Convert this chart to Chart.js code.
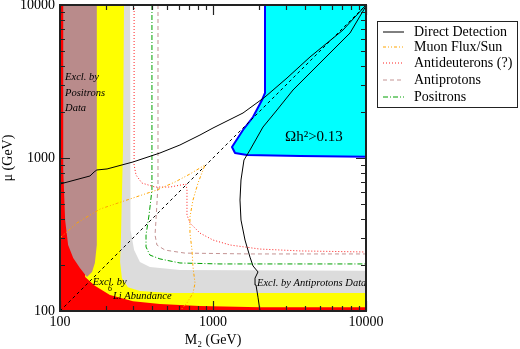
<!DOCTYPE html>
<html>
<head>
<meta charset="utf-8">
<script src="https://cdn.jsdelivr.net/npm/chart.js@4/dist/chart.umd.min.js"></script>
<style>
html, body { margin: 0; padding: 0; background: #fff; }
</style>
</head>
<body>
<canvas id="chart" width="520" height="349"></canvas>
<script>
// axis values (GeV)
const tickValues = [100, 1000, 10000];

// excluded regions: boundaries, as (M2, mu) pairs
const redX = [100, 100, 10000, 10000];
const redY = [100, 10000, 10000, 100];
const yellowX = [146, 146, 169, 212, 300, 450, 822, 2028, 10000, 10000];
const yellowY = [10000, 167, 146, 127, 116, 111, 108, 106, 106, 10000];
const greyX = [262, 258, 250, 247, 254, 278, 333, 524, 10000, 10000];
const greyY = [10000, 1128, 291, 209, 164, 143, 135, 131, 131, 10000];
const whiteX = [287, 287, 291, 305, 333, 387, 608, 10000, 10000];
const whiteY = [10000, 531, 338, 250, 209, 194, 185, 183, 10000];
const brownX = [105, 105, 108, 113, 122, 135, 150, 162, 169, 174, 174];
const brownY = [10000, 835, 393, 270, 222, 191, 167, 180, 206, 270, 10000];
// the relic density region runs past the top and right edges
const cyanX = [2187, 2187, 2091, 1826, 1571, 1331, 1393, 1668, 3704, 12000, 12000, 2187];
const cyanY = [12000, 2660, 2394, 1853, 1524, 1180, 1078, 1046, 1031, 1015, 12000, 12000];

// sensitivity curves
const ddAX = [100, 157, 167, 174, 203, 300, 450, 608, 822, 1000, 1571, 2187, 3046, 4305, 7073, 10000];
const ddAY = [676, 763, 810, 835, 848, 942, 1078, 1216, 1413, 1571, 1968, 2505, 3333, 4573, 6864, 10000];
const ddBX = [2028, 1968, 1910, 1882, 1968, 1826, 1745, 1619, 1524, 1501, 1524, 1594, 1745, 2122, 2620, 3333, 5005, 7862, 10000];
const ddBY = [100, 123, 148, 164, 180, 197, 225, 291, 393, 531, 718, 970, 1128, 1594, 2060, 2782, 4178, 6561, 9851];
const muonX = [100, 129, 183, 300, 430, 565, 707, 886, 798, 740, 707, 707, 729, 740, 763, 740, 676, 608];
const muonY = [300, 376, 464, 548, 618, 697, 786, 900, 686, 531, 412, 323, 250, 194, 152, 131, 113, 100];
const dbarX = [305, 305, 314, 343, 418, 524, 666, 676, 676, 707, 822, 1000, 1292, 2028, 3704, 10000];
const dbarY = [10000, 900, 774, 686, 646, 646, 676, 618, 424, 376, 323, 291, 270, 254, 247, 243];
const pbarX = [437, 437, 424, 418, 430, 486, 656, 1745, 10000];
const pbarY = [10000, 666, 393, 314, 270, 250, 239, 236, 236];
const posX = [399, 399, 382, 365, 365, 387, 450, 608, 1111, 10000];
const posY = [10000, 618, 424, 314, 262, 232, 219, 206, 203, 203];
const diagX = [100, 10000];
const diagY = [100, 10000];

const serif = "'Liberation Serif', 'Times New Roman', 'DejaVu Serif', serif";

function pts(xs, ys) {
    return xs.map((x, i) => ({ x: x, y: ys[i] }));
}

function curve(label, xs, ys, color, dash) {
    return {
        label: label,
        data: pts(xs, ys),
        borderColor: color,
        borderWidth: 1,
        borderDash: dash,
        fill: false,
        inLegend: label != null
    };
}

function region(xs, ys, color, border) {
    return {
        data: pts(xs, ys),
        backgroundColor: color,
        borderColor: border || color,
        borderWidth: border ? 2 : 0,
        borderJoinStyle: 'round',
        fill: 'shape',
        clip: 0,
        inLegend: false
    };
}

// text inside the plot, placed in data coordinates
const notes = [
    { text: 'Excl. by', x: 108, y: 3381, size: 10.5, italic: true },
    { text: 'Positrons', x: 108, y: 2660, size: 10.5, italic: true },
    { text: 'Data', x: 108, y: 2122, size: 10.5, italic: true },
    { text: 'Excl. by', x: 164, y: 155, size: 10.5, italic: true },
    { text: '6', x: 206, y: 139, size: 8, italic: true },
    { text: 'Li Abundance', x: 222, y: 125, size: 10.5, italic: true },
    { text: 'Excl. by Antiprotons Data', x: 1940, y: 152, size: 10.5, italic: true },
    { text: 'Ωh²>0.13', x: 2955, y: 1372, size: 15, italic: false }
];

const notesPlugin = {
    id: 'notes',
    afterDatasetsDraw(chart) {
        let ctx = chart.ctx;
        let xs = chart.scales.x, ys = chart.scales.y;
        ctx.save();
        ctx.fillStyle = '#000';
        ctx.textAlign = 'left';
        ctx.textBaseline = 'middle';
        for (let n of notes) {
            ctx.font = (n.italic ? 'italic ' : '') + n.size + 'px ' + serif;
            ctx.fillText(n.text, xs.getPixelForValue(n.x), ys.getPixelForValue(n.y));
        }
        ctx.restore();
    }
};

// frame with inward ticks on all four sides
const framePlugin = {
    id: 'frame',
    afterDraw(chart) {
        let ctx = chart.ctx;
        let a = chart.chartArea;
        let xs = chart.scales.x, ys = chart.scales.y;
        ctx.save();
        ctx.strokeStyle = '#222';
        ctx.lineWidth = 1.2;
        ctx.beginPath();
        for (let d of [100, 1000]) {
            for (let m = 1; m <= 10; m++) {
                let v = m * d;
                let len = (m == 1 || m == 10) ? 10 : 5;
                let px = Math.round(xs.getPixelForValue(v)) + 0.5;
                let py = Math.round(ys.getPixelForValue(v)) + 0.5;
                ctx.moveTo(px, a.bottom); ctx.lineTo(px, a.bottom - len);
                ctx.moveTo(px, a.top); ctx.lineTo(px, a.top + len);
                ctx.moveTo(a.left, py); ctx.lineTo(a.left + len, py);
                ctx.moveTo(a.right, py); ctx.lineTo(a.right - len, py);
            }
        }
        ctx.stroke();
        ctx.lineWidth = 2;
        ctx.strokeRect(a.left, a.top, a.right - a.left, a.bottom - a.top);
        ctx.restore();
    }
};

// boxed legend to the right of the plot, styled from the datasets
const legendPlugin = {
    id: 'boxLegend',
    afterDraw(chart) {
        let ctx = chart.ctx;
        let rowY = [32, 47, 63, 80, 97];
        let row = 0;
        ctx.save();
        ctx.strokeStyle = '#222';
        ctx.lineWidth = 1;
        ctx.strokeRect(377.5, 21.5, 140, 86);
        ctx.font = '14px ' + serif;
        ctx.textAlign = 'left';
        ctx.textBaseline = 'middle';
        chart.data.datasets.forEach((d, i) => {
            if (!d.inLegend) return;
            let opts = chart.getDatasetMeta(i).dataset.options;
            let y = rowY[row];
            ctx.lineWidth = 1;
            ctx.strokeStyle = opts.borderColor;
            ctx.setLineDash(opts.borderDash || []);
            ctx.beginPath();
            ctx.moveTo(383, y);
            ctx.lineTo(404, y);
            ctx.stroke();
            ctx.setLineDash([]);
            ctx.fillStyle = '#000';
            ctx.fillText(d.label, 414, y);
            row++;
        });
        ctx.restore();
    }
};

Chart.defaults.font.family = serif;
Chart.defaults.color = '#000';

function logAxis(title, isX) {
    return {
        type: 'logarithmic',
        position: isX ? 'bottom' : 'left',
        min: 100,
        max: 10000,
        afterBuildTicks: s => { s.ticks = tickValues.map(v => ({ value: v })); },
        afterFit: s => {
            if (isX) { s.height = 38; s.paddingLeft = 0; s.paddingRight = 0; }
            else { s.width = 60; s.paddingTop = 0; s.paddingBottom = 0; }
        },
        ticks: {
            autoSkip: false,
            maxRotation: 0,
            padding: isX ? 3 : 5,
            font: { size: 14 },
            callback: v => String(v)
        },
        grid: { display: false, drawTicks: false },
        border: { display: false },
        title: {
            display: true,
            text: title,
            font: { size: 14 },
            padding: { top: 0, bottom: 0 }
        }
    };
}

new Chart(document.getElementById('chart'), {
    type: 'line',
    data: {
        datasets: [
            curve('Direct Detection', ddAX, ddAY, '#000000', []),
            curve('Muon Flux/Sun', muonX, muonY, '#ffa500', [3, 2, 1, 2, 1, 2]),
            curve('Antideuterons (?)', dbarX, dbarY, '#ff2020', [1, 2]),
            curve('Antiprotons', pbarX, pbarY, '#c49494', [4, 3]),
            curve('Positrons', posX, posY, '#00a000', [5, 2, 1, 2]),
            curve(null, ddBX, ddBY, '#000000', []),
            curve(null, diagX, diagY, '#000000', [3, 3]),
            region(cyanX, cyanY, '#00ffff', '#0000ff'),
            region(brownX, brownY, '#b98b8b'),
            region(whiteX, whiteY, '#ffffff'),
            region(greyX, greyY, '#dcdcdc'),
            region(yellowX, yellowY, '#ffff00'),
            region(redX, redY, '#ff0000')
        ]
    },
    options: {
        responsive: false,
        animation: false,
        layout: { padding: { left: 0, top: 5, right: 154, bottom: 0 } },
        elements: {
            point: { radius: 0, hoverRadius: 0 },
            line: { tension: 0 }
        },
        plugins: {
            legend: { display: false },
            tooltip: { enabled: false }
        },
        events: [],
        scales: {
            x: logAxis('M₂ (GeV)', true),
            y: logAxis('μ (GeV)', false)
        }
    },
    plugins: [notesPlugin, framePlugin, legendPlugin]
});
</script>
</body>
</html>
